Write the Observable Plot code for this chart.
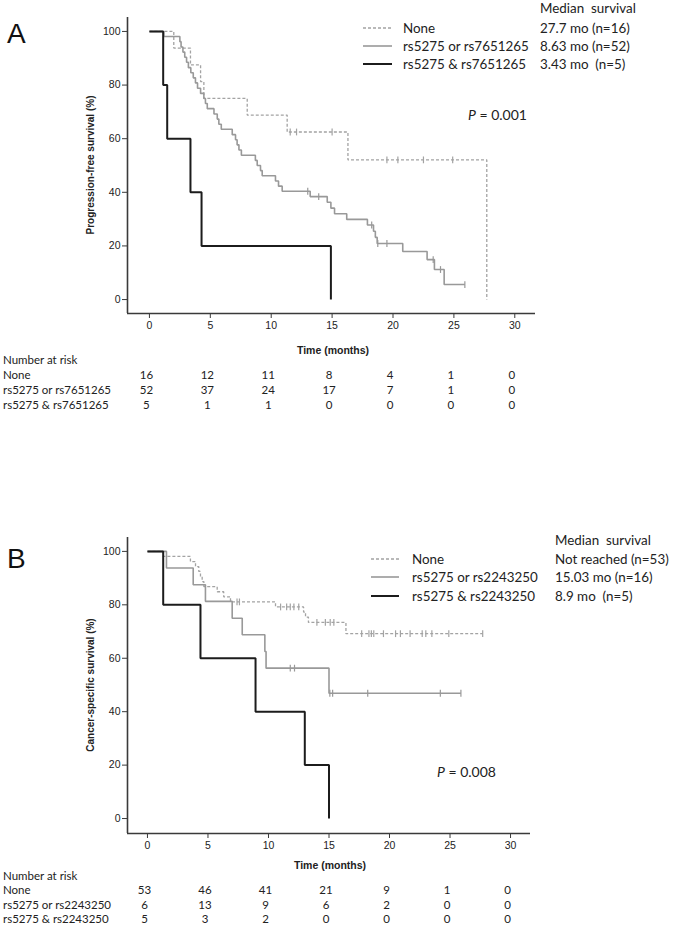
<!DOCTYPE html>
<html><head><meta charset="utf-8">
<script src="https://cdn.jsdelivr.net/npm/d3@7"></script>
<script src="https://cdn.jsdelivr.net/npm/@observablehq/plot@0.6"></script>
<style>
body{margin:0;background:#fff;}
#fig{width:675px;height:925px;position:relative;overflow:hidden;background:#fff}
#fig svg{display:block;overflow:visible}
</style></head><body><div id="fig"></div>
<script>
// ---------- shared ----------
const xTicks = [0, 5, 10, 15, 20, 25, 30];
const yTicks = [0, 20, 40, 60, 80, 100];
const riskTimes = [0, 5, 10, 15, 20, 25, 30];

// ---------- Panel A: progression-free survival ----------
const aGroups = ["None", "rs5275 or rs7651265", "rs5275 & rs7651265"];
const aMedians = ["27.7 mo (n=16)", "8.63 mo (n=52)", "3.43 mo  (n=5)"];
const aPvalue = "0.001";
// None (dashed)
const aNoneT = [0, 2.0, 3.37, 4.2, 4.47, 8.03, 11.31, 16.3, 27.7];
const aNoneS = [100, 93.8, 87.5, 81.3, 75.0, 68.8, 62.5, 52.1, 0];
const aNoneCensT = [11.56, 12.08, 15.0, 19.5, 20.4, 22.5, 24.9];
const aNoneCensS = [62.5, 62.5, 62.5, 52.1, 52.1, 52.1, 52.1];
// rs5275 or rs7651265 (grey)
const aOrT = [0, 1.18, 2.5, 2.6, 2.75, 2.9, 3.05, 3.2, 3.4, 3.6, 3.78, 3.95, 4.2, 4.47, 4.6, 4.75,
  5.3, 5.57, 5.7, 5.9, 6.8, 7.07, 7.2, 7.35, 7.55, 8.7, 8.85, 9.12, 9.26,
  10.35, 10.6, 10.9, 13.2, 14.6, 14.9, 15.2, 16.2, 17.9, 18.4, 18.55, 18.7, 20.8, 22.8, 23.4, 24.2, 25.9];
const aOrS = [100, 98.1, 96.2, 94.2, 92.3, 90.4, 88.5, 86.5, 84.6, 82.7, 80.8, 78.8, 76.9, 75.0, 73.1, 71.2,
  69.2, 67.3, 65.4, 63.5, 61.5, 59.6, 57.7, 55.8, 53.8, 51.9, 50.0, 48.1, 46.2,
  44.2, 42.3, 40.4, 38.4, 36.3, 34.1, 32.0, 29.9, 27.8, 25.5, 23.2, 20.9, 17.9, 14.9, 11.2, 5.6, 5.6];
const aOrCensT = [13.0, 13.9, 18.25, 18.75, 19.5, 23.3, 23.9, 25.9];
const aOrCensS = [40.4, 38.4, 27.8, 20.9, 20.9, 14.9, 11.2, 5.6];
// rs5275 & rs7651265 (black)
const aAndT = [0, 1.13, 1.46, 3.37, 4.28, 14.9];
const aAndS = [100, 80, 60, 40, 20, 0];
const aRisk = [[16, 12, 11, 8, 4, 1, 0], [52, 37, 24, 17, 7, 1, 0], [5, 1, 1, 0, 0, 0, 0]];

// ---------- Panel B: cancer-specific survival ----------
const bGroups = ["None", "rs5275 or rs2243250", "rs5275 & rs2243250"];
const bMedians = ["Not reached (n=53)", "15.03 mo (n=16)", "8.9 mo  (n=5)"];
const bPvalue = "0.008";
const bNoneT = [0, 1.3, 3.55, 3.97, 4.24, 4.38, 4.52, 4.66, 5.76, 6.3, 6.86, 10.58, 12.9, 13.06, 13.3, 16.4, 27.7];
const bNoneS = [100, 98.1, 96.2, 94.3, 92.5, 90.6, 88.7, 86.8, 84.9, 83.0, 81.1, 79.2, 77.3, 75.4, 73.4, 69.2, 69.2];
const bNoneCensT = [7.4, 7.6, 11.0, 11.5, 11.8, 12.1, 12.5, 14.0, 14.7, 15.1, 15.4,
  17.7, 18.3, 18.5, 18.7, 19.5, 20.5, 20.9, 21.7, 22.7, 23.0, 23.5, 24.9, 27.7];
const bNoneCensS = [81.1, 81.1, 79.2, 79.2, 79.2, 79.2, 79.2, 73.4, 73.4, 73.4, 73.4,
  69.2, 69.2, 69.2, 69.2, 69.2, 69.2, 69.2, 69.2, 69.2, 69.2, 69.2, 69.2, 69.2];
const bOrT = [0, 1.57, 3.78, 4.79, 7.0, 7.83, 9.7, 9.8, 15.0, 25.9];
const bOrS = [100, 93.8, 87.5, 81.3, 75.0, 68.8, 62.5, 56.3, 46.9, 46.9];
const bOrCensT = [11.8, 12.15, 15.07, 15.3, 18.2, 24.2, 25.9];
const bOrCensS = [56.3, 56.3, 46.9, 46.9, 46.9, 46.9, 46.9];
const bAndT = [0, 1.3, 4.38, 8.93, 13.0, 15.0];
const bAndS = [100, 80, 60, 40, 20, 0];
const bRisk = [[53, 46, 41, 21, 9, 1, 0], [6, 13, 9, 6, 2, 0, 0], [5, 3, 2, 0, 0, 0, 0]];

// ---------- styles ----------
const styles = [
  {stroke: "#a3a3a3", strokeWidth: 1.3, dash: "3,2"},
  {stroke: "#999999", strokeWidth: 1.6, dash: null},
  {stroke: "#1c1c1c", strokeWidth: 2, dash: null}
];
const censorSymbol = {draw(ctx, size) { const r = Math.sqrt(size / Math.PI); ctx.moveTo(0, -r); ctx.lineTo(0, r); }};
const legendFont = "Lato, 'Open Sans', sans-serif";
const axisFont = "'Liberation Sans', Arial, sans-serif";

function pts(T, S) { return T.map((t, i) => ({t, s: S[i]})); }

function panel(cfg) {
  const g = cfg.geom;
  const marks = [];
  // axis lines
  marks.push(Plot.ruleX([cfg.xDomain[0]], {stroke: "#3a3a3a", strokeWidth: 1.6}));
  marks.push(Plot.ruleY([cfg.yDomain[0]], {stroke: "#3a3a3a", strokeWidth: 1.6}));
  marks.push(Plot.axisX({ticks: xTicks, tickSize: 5, tickPadding: 3, label: null, stroke: "#3a3a3a", fill: "#222", fontSize: 10.5}));
  marks.push(Plot.axisY({ticks: yTicks, tickSize: 5, tickPadding: 2, label: null, stroke: "#3a3a3a", fill: "#222", fontSize: 10.5}));
  // curves
  cfg.series.forEach((sr, i) => {
    const st = styles[i];
    marks.push(Plot.line(pts(sr.T, sr.S), {x: "t", y: "s", curve: "step-after", stroke: st.stroke,
      strokeWidth: st.strokeWidth, strokeDasharray: st.dash, strokeLinejoin: "miter", strokeLinecap: "butt"}));
    if (sr.CT) marks.push(Plot.dot(pts(sr.CT, sr.CS), {x: "t", y: "s", symbol: censorSymbol, r: 3.4,
      fill: "none", stroke: st.stroke, strokeWidth: 1.2}));
  });
  // risk table numbers
  cfg.risk.forEach((row, i) => {
    marks.push(Plot.text(riskTimes.map((t, j) => ({t, n: row[j]})), {x: "t", text: d => String(d.n),
      frameAnchor: "bottom", dy: g.tableY[i] - g.axisBottom, dx: -3, lineAnchor: "middle",
      fontFamily: legendFont, fontSize: 11.5, fill: "#222"}));
  });
  // annotations
  marks.push(() => {
    const root = d3.create("svg:g");
    const txt = (x, y, s, o = {}) => root.append("text").attr("x", x).attr("y", y)
      .attr("dy", "0.35em").attr("font-family", o.family || legendFont).attr("font-size", o.size || 13.4)
      .attr("font-weight", o.weight || null).attr("fill", o.fill || "#222")
      .attr("text-anchor", o.anchor || "start").text(s);
    // panel letter
    root.append("text").attr("x", 7).attr("y", g.letterY).attr("font-family", axisFont)
      .attr("text-anchor", "start").attr("font-size", 28).attr("fill", "#111").text(cfg.letter);
    // legend
    txt(g.medX, g.headY, "Median  survival");
    cfg.groups.forEach((lab, i) => {
      const st = styles[i];
      root.append("line").attr("x1", g.swX[0]).attr("x2", g.swX[1]).attr("y1", g.rowY[i]).attr("y2", g.rowY[i])
        .attr("stroke", st.stroke).attr("stroke-width", st.strokeWidth).attr("stroke-dasharray", st.dash);
      txt(g.labX, g.rowY[i], lab);
      txt(g.medX, g.rowY[i], cfg.medians[i]);
    });
    // P value
    const p = root.append("text").attr("x", g.pX).attr("y", g.pY).attr("dy", "0.35em").attr("text-anchor", "start")
      .attr("font-family", legendFont).attr("font-size", 14).attr("fill", "#222");
    p.append("tspan").attr("font-style", "italic").text("P");
    p.append("tspan").text(" = " + cfg.p);
    // axis titles
    txt(g.xlabX, g.xlabY, "Time (months)", {family: axisFont, size: 10.5, weight: "bold", anchor: "middle"});
    root.append("text").attr("transform", `translate(${g.ylabX},${g.ylabY}) rotate(-90)`)
      .attr("dy", "0.35em").attr("text-anchor", "middle").attr("font-family", axisFont)
      .attr("font-size", 10).attr("font-weight", "bold").attr("fill", "#222").text(cfg.ylabel);
    // risk table labels
    txt(3, g.narY, "Number at risk", {size: 11.5});
    cfg.groups.forEach((lab, i) => txt(3, g.tableY[i], lab, {size: 11.5}));
    return root.node();
  });
  return Plot.plot({
    width: 675, height: cfg.height,
    marginLeft: 127, marginRight: cfg.marginRight, marginTop: cfg.marginTop, marginBottom: cfg.marginBottom,
    x: {domain: cfg.xDomain}, y: {domain: cfg.yDomain},
    style: {fontFamily: axisFont, fontSize: "10px", color: "#222", background: "#fff", overflow: "visible"},
    marks
  });
}

const fig = document.getElementById("fig");
fig.append(panel({
  letter: "A", ylabel: "Progression-free survival (%)", groups: aGroups, medians: aMedians, p: aPvalue,
  series: [
    {T: aNoneT, S: aNoneS, CT: aNoneCensT, CS: aNoneCensS},
    {T: aOrT, S: aOrS, CT: aOrCensT, CS: aOrCensS},
    {T: aAndT, S: aAndS}
  ],
  risk: aRisk, height: 440, marginTop: 17, marginBottom: 127, marginRight: 140,
  xDomain: [-1.8, 31.7], yDomain: [-5.2, 105.2],
  geom: {axisBottom: 313, letterY: 43, headY: 8, rowY: [28, 46, 64], swX: [363, 392], labX: 403, medX: 540,
    pX: 468, pY: 115, xlabX: 333, xlabY: 350, ylabX: 90, ylabY: 165, narY: 360, tableY: [375, 390, 405]}
}));
fig.append(panel({
  letter: "B", ylabel: "Cancer-specific survival (%)", groups: bGroups, medians: bMedians, p: bPvalue,
  series: [
    {T: bNoneT, S: bNoneS, CT: bNoneCensT, CS: bNoneCensS},
    {T: bOrT, S: bOrS, CT: bOrCensT, CS: bOrCensS},
    {T: bAndT, S: bAndS}
  ],
  risk: bRisk, height: 485, marginTop: 97, marginBottom: 92, marginRight: 145,
  xDomain: [-1.65, 31.65], yDomain: [-5.6, 105.2],
  geom: {axisBottom: 393, letterY: 128, headY: 100, rowY: [119, 137, 156], swX: [371, 399], labX: 412, medX: 555,
    pX: 437, pY: 332, xlabX: 330, xlabY: 425, ylabX: 90, ylabY: 245, narY: 436, tableY: [450, 465, 479]}
}));
</script></body></html>
